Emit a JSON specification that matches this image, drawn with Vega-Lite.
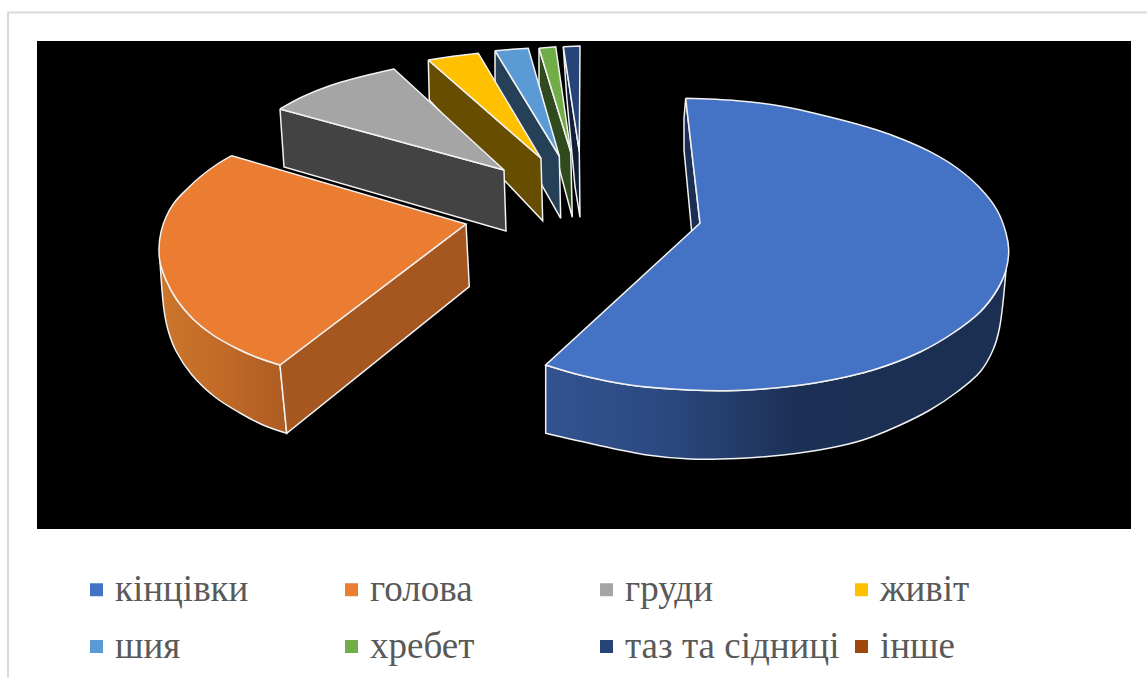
{
  "$schema": "https://vega.github.io/schema/vega-lite/v6.json",
  "width": 1094,
  "height": 488,
  "autosize": {"type": "none"},
  "padding": {"left": 37, "top": 41, "right": 16, "bottom": 149},
  "background": "white",
  "view": {"fill": "black", "stroke": null},
  "datasets": {
    "outline": [
      {"piece":"кінцівки: дуга","x":545.7,"y":365},{"piece":"кінцівки: дуга","x":545.7,"y":365},{"piece":"кінцівки: дуга","x":580,"y":375},{"piece":"кінцівки: дуга","x":630,"y":385},{"piece":"кінцівки: дуга","x":690,"y":390},{"piece":"кінцівки: дуга","x":727,"y":390.7},{"piece":"кінцівки: дуга","x":763,"y":389},{"piece":"кінцівки: дуга","x":797,"y":385.5},{"piece":"кінцівки: дуга","x":823,"y":381.5},{"piece":"кінцівки: дуга","x":873,"y":370},{"piece":"кінцівки: дуга","x":920,"y":352},{"piece":"кінцівки: дуга","x":953,"y":333},{"piece":"кінцівки: дуга","x":980,"y":312},{"piece":"кінцівки: дуга","x":997,"y":290},{"piece":"кінцівки: дуга","x":1006,"y":270},{"piece":"кінцівки: дуга","x":1006,"y":270},{"piece":"кінцівки: дуга","x":999.5,"y":328},{"piece":"кінцівки: дуга","x":993,"y":350},{"piece":"кінцівки: дуга","x":980,"y":372},{"piece":"кінцівки: дуга","x":957,"y":392},{"piece":"кінцівки: дуга","x":930,"y":410},{"piece":"кінцівки: дуга","x":897,"y":426.5},{"piece":"кінцівки: дуга","x":863,"y":440},{"piece":"кінцівки: дуга","x":830,"y":448},{"piece":"кінцівки: дуга","x":783,"y":455},{"piece":"кінцівки: дуга","x":737,"y":458.5},{"piece":"кінцівки: дуга","x":690,"y":459},{"piece":"кінцівки: дуга","x":647,"y":455},{"piece":"кінцівки: дуга","x":597,"y":445},{"piece":"кінцівки: дуга","x":545.7,"y":433.3},{"piece":"кінцівки: дуга","x":545.7,"y":433.3},{"piece":"кінцівки: дуга","x":545.7,"y":365},{"piece":"кінцівки: дуга","x":545.7,"y":365},

      {"piece":"голова: дуга","x":280,"y":365},{"piece":"голова: дуга","x":280,"y":365},{"piece":"голова: дуга","x":256.7,"y":357.3},{"piece":"голова: дуга","x":236,"y":348},{"piece":"голова: дуга","x":213,"y":335},{"piece":"голова: дуга","x":193,"y":319},{"piece":"голова: дуга","x":177,"y":300},{"piece":"голова: дуга","x":166,"y":280},{"piece":"голова: дуга","x":160,"y":262},{"piece":"голова: дуга","x":160,"y":262},{"piece":"голова: дуга","x":164,"y":310},{"piece":"голова: дуга","x":168,"y":330},{"piece":"голова: дуга","x":176,"y":351},{"piece":"голова: дуга","x":192,"y":375},{"piece":"голова: дуга","x":215,"y":397},{"piece":"голова: дуга","x":240,"y":413},{"piece":"голова: дуга","x":263,"y":425},{"piece":"голова: дуга","x":286.7,"y":433.3},{"piece":"голова: дуга","x":286.7,"y":433.3},{"piece":"голова: дуга","x":280,"y":365},{"piece":"голова: дуга","x":280,"y":365},

      {"piece":"таз та сідниці: бік","x":563.3,"y":46.7},{"piece":"таз та сідниці: бік","x":579.3,"y":151.7},{"piece":"таз та сідниці: бік","x":580,"y":217.3},{"piece":"таз та сідниці: бік","x":575,"y":186.7},{"piece":"таз та сідниці: бік","x":566.7,"y":96.7},{"piece":"таз та сідниці: бік","x":563.3,"y":46.7},
      {"piece":"таз та сідниці","x":563.3,"y":46.7},{"piece":"таз та сідниці","x":580,"y":46},{"piece":"таз та сідниці","x":579.3,"y":151.7},{"piece":"таз та сідниці","x":563.3,"y":46.7},

      {"piece":"хребет: бік","x":539,"y":48.3},{"piece":"хребет: бік","x":570.7,"y":151.7},{"piece":"хребет: бік","x":572.3,"y":217.3},{"piece":"хребет: бік","x":561,"y":175},{"piece":"хребет: бік","x":539,"y":85},{"piece":"хребет: бік","x":539,"y":48.3},
      {"piece":"хребет","x":539,"y":48.3},{"piece":"хребет","x":555.7,"y":46.7},{"piece":"хребет","x":570.7,"y":151.7},{"piece":"хребет","x":539,"y":48.3},

      {"piece":"шия: бік","x":495,"y":50.7},{"piece":"шия: бік","x":559.3,"y":156},{"piece":"шия: бік","x":560.7,"y":218.3},{"piece":"шия: бік","x":542.7,"y":186.7},{"piece":"шия: бік","x":495,"y":90},{"piece":"шия: бік","x":495,"y":50.7},
      {"piece":"шия","x":495,"y":50.7},{"piece":"шия","x":512,"y":49.3},{"piece":"шия","x":528.3,"y":48.3},{"piece":"шия","x":559.3,"y":156},{"piece":"шия","x":495,"y":50.7},

      {"piece":"живіт: бік","x":428.3,"y":60},{"piece":"живіт: бік","x":541,"y":158.3},{"piece":"живіт: бік","x":542.7,"y":220.7},{"piece":"живіт: бік","x":505,"y":181},{"piece":"живіт: бік","x":429.3,"y":100},{"piece":"живіт: бік","x":428.3,"y":60},
      {"piece":"живіт","x":428.3,"y":60},{"piece":"живіт","x":453,"y":56.3},{"piece":"живіт","x":478.3,"y":53.3},{"piece":"живіт","x":541,"y":158.3},{"piece":"живіт","x":428.3,"y":60},

      {"piece":"груди: бік","x":280,"y":109},{"piece":"груди: бік","x":504,"y":170},{"piece":"груди: бік","x":506,"y":231},{"piece":"груди: бік","x":284,"y":167},{"piece":"груди: бік","x":280,"y":109},

      {"piece":"голова: бік","x":466,"y":224},{"piece":"голова: бік","x":469.3,"y":286.7},{"piece":"голова: бік","x":286.7,"y":433.3},{"piece":"голова: бік","x":280,"y":365},{"piece":"голова: бік","x":466,"y":224},

      {"piece":"кінцівки: бік","x":685.7,"y":98.3},{"piece":"кінцівки: бік","x":700,"y":223.3},{"piece":"кінцівки: бік","x":691.7,"y":231.7},{"piece":"кінцівки: бік","x":684,"y":150},{"piece":"кінцівки: бік","x":684,"y":118.3},{"piece":"кінцівки: бік","x":685.7,"y":98.3},

      {"piece":"груди","x":280,"y":109},{"piece":"груди","x":280,"y":109},{"piece":"груди","x":302,"y":97},{"piece":"груди","x":329,"y":86},{"piece":"груди","x":364,"y":76},{"piece":"груди","x":394,"y":69},{"piece":"груди","x":394,"y":69},{"piece":"груди","x":504,"y":170},{"piece":"груди","x":504,"y":170},{"piece":"груди","x":280,"y":109},{"piece":"груди","x":280,"y":109},

      {"piece":"голова","x":231.7,"y":155.7},{"piece":"голова","x":231.7,"y":155.7},{"piece":"голова","x":466,"y":224},{"piece":"голова","x":466,"y":224},{"piece":"голова","x":280,"y":365},{"piece":"голова","x":280,"y":365},{"piece":"голова","x":256.7,"y":357.3},{"piece":"голова","x":236,"y":348},{"piece":"голова","x":213,"y":335},{"piece":"голова","x":193,"y":319},{"piece":"голова","x":177,"y":300},{"piece":"голова","x":166,"y":280},{"piece":"голова","x":160,"y":262},{"piece":"голова","x":159,"y":248},{"piece":"голова","x":161,"y":232},{"piece":"голова","x":166,"y":217},{"piece":"голова","x":174,"y":203},{"piece":"голова","x":186,"y":190},{"piece":"голова","x":200,"y":177},{"piece":"голова","x":216,"y":165},{"piece":"голова","x":231.7,"y":155.7},{"piece":"голова","x":231.7,"y":155.7},

      {"piece":"кінцівки","x":685.7,"y":98.3},{"piece":"кінцівки","x":685.7,"y":98.3},{"piece":"кінцівки","x":737,"y":100.7},{"piece":"кінцівки","x":783,"y":106.5},{"piece":"кінцівки","x":830,"y":117},{"piece":"кінцівки","x":877,"y":130},{"piece":"кінцівки","x":903,"y":139.5},{"piece":"кінцівки","x":930,"y":151.7},{"piece":"кінцівки","x":957,"y":168},{"piece":"кінцівки","x":980,"y":188},{"piece":"кінцівки","x":997,"y":210},{"piece":"кінцівки","x":1006,"y":233},{"piece":"кінцівки","x":1008.7,"y":250},{"piece":"кінцівки","x":1006,"y":270},{"piece":"кінцівки","x":997,"y":290},{"piece":"кінцівки","x":980,"y":312},{"piece":"кінцівки","x":953,"y":333},{"piece":"кінцівки","x":920,"y":352},{"piece":"кінцівки","x":873,"y":370},{"piece":"кінцівки","x":823,"y":381.5},{"piece":"кінцівки","x":797,"y":385.5},{"piece":"кінцівки","x":763,"y":389},{"piece":"кінцівки","x":727,"y":390.7},{"piece":"кінцівки","x":690,"y":390},{"piece":"кінцівки","x":630,"y":385},{"piece":"кінцівки","x":580,"y":375},{"piece":"кінцівки","x":545.7,"y":365},{"piece":"кінцівки","x":545.7,"y":365},{"piece":"кінцівки","x":700,"y":223.3},{"piece":"кінцівки","x":700,"y":223.3},{"piece":"кінцівки","x":685.7,"y":98.3},{"piece":"кінцівки","x":685.7,"y":98.3}
    ]
  },
  "layer": [
    {
      "description": "Thin grey frame around the chart area",
      "data": {"values": [{"left": 8, "right": 1200, "top": 12.5, "bottom": 800}]},
      "mark": {"type": "rect", "fill": null, "stroke": "#d9d9d9", "strokeWidth": 2, "clip": false},
      "encoding": {
        "x": {"field": "left", "type": "quantitative", "scale": {"domain": [37, 1131]}, "axis": null},
        "x2": {"field": "right"},
        "y": {"field": "top", "type": "quantitative", "scale": {"domain": [529, 41]}, "axis": null},
        "y2": {"field": "bottom"}
      }
    },
    {
      "description": "Curved wall of the largest slice, shaded left to right",
      "data": {"name": "outline"},
      "transform": [
        {"window": [{"op": "row_number", "as": "i"}]},
        {"filter": "datum.piece === 'кінцівки: дуга'"}
      ],
      "mark": {
        "type": "line",
        "interpolate": "catmull-rom",
        "stroke": "#f2f2f2",
        "strokeWidth": 1.5,
        "fill": {
          "gradient": "linear", "x1": 0, "y1": 0, "x2": 1, "y2": 0,
          "stops": [
            {"offset": 0, "color": "#335390"},
            {"offset": 0.25, "color": "#2C4980"},
            {"offset": 0.55, "color": "#1C3055"},
            {"offset": 1, "color": "#1B2F52"}
          ]
        }
      },
      "encoding": {
        "x": {"field": "x", "type": "quantitative", "scale": {"domain": [37, 1131]}, "axis": null},
        "y": {"field": "y", "type": "quantitative", "scale": {"domain": [529, 41]}, "axis": null},
        "order": {"field": "i"}
      }
    },
    {
      "description": "Curved wall of the second slice, shaded left to right",
      "data": {"name": "outline"},
      "transform": [
        {"window": [{"op": "row_number", "as": "i"}]},
        {"filter": "datum.piece === 'голова: дуга'"}
      ],
      "mark": {
        "type": "line",
        "interpolate": "catmull-rom",
        "stroke": "#f2f2f2",
        "strokeWidth": 1.5,
        "fill": {
          "gradient": "linear", "x1": 0, "y1": 0, "x2": 1, "y2": 0,
          "stops": [
            {"offset": 0, "color": "#CC752C"},
            {"offset": 0.5, "color": "#C16A28"},
            {"offset": 1, "color": "#AD5B22"}
          ]
        }
      },
      "encoding": {
        "x": {"field": "x", "type": "quantitative", "scale": {"domain": [37, 1131]}, "axis": null},
        "y": {"field": "y", "type": "quantitative", "scale": {"domain": [529, 41]}, "axis": null},
        "order": {"field": "i"}
      }
    },
    {
      "description": "Straight-edged faces, listed back to front; the legend shows the eight categories",
      "data": {"name": "outline"},
      "transform": [
        {"window": [{"op": "row_number", "as": "i"}]},
        {"filter": "!test(/дуга/, datum.piece) && datum.piece !== 'груди' && datum.piece !== 'голова' && datum.piece !== 'кінцівки'"}
      ],
      "mark": {"type": "line", "stroke": "#f2f2f2", "strokeWidth": 1.5, "strokeJoin": "miter"},
      "encoding": {
        "x": {"field": "x", "type": "quantitative", "scale": {"domain": [37, 1131]}, "axis": null},
        "y": {"field": "y", "type": "quantitative", "scale": {"domain": [529, 41]}, "axis": null},
        "order": {"field": "i"},
        "fill": {
          "field": "piece",
          "type": "nominal",
          "sort": null,
          "scale": {
            "domain": ["кінцівки","голова","груди","живіт","шия","хребет","таз та сідниці","інше","кінцівки: бік","голова: бік","груди: бік","живіт: бік","шия: бік","хребет: бік","таз та сідниці: бік"],
            "range": ["#4472C4","#EB7D32","#A5A5A5","#FFC000","#5B9BD5","#70AD47","#264478","#9E480E","#1B2F55","#A5571F","#434343","#664D00","#264058","#2F4A1C","#101F38"]
          },
          "legend": {
            "values": ["кінцівки","голова","груди","живіт","шия","хребет","таз та сідниці","інше"],
            "orient": "none",
            "legendX": 41,
            "legendY": 530,
            "direction": "horizontal",
            "columns": 4,
            "gridAlign": "all",
            "title": null,
            "symbolType": "square",
            "symbolSize": 169,
            "symbolStrokeWidth": 0,
            "labelFont": "Liberation Serif",
            "labelFontSize": 37,
            "labelColor": "#595959",
            "labelLimit": 400,
            "labelOffset": 0,
            "columnPadding": 3,
            "rowPadding": 19,
            "padding": 0
          }
        }
      }
    },
    {
      "description": "Top faces with a curved rim, drawn over the walls behind them",
      "data": {"name": "outline"},
      "transform": [
        {"window": [{"op": "row_number", "as": "i"}]},
        {"filter": "datum.piece === 'груди' || datum.piece === 'голова' || datum.piece === 'кінцівки'"}
      ],
      "mark": {"type": "line", "interpolate": "catmull-rom", "stroke": "#f2f2f2", "strokeWidth": 1.5, "strokeJoin": "miter"},
      "encoding": {
        "x": {"field": "x", "type": "quantitative", "scale": {"domain": [37, 1131]}, "axis": null},
        "y": {"field": "y", "type": "quantitative", "scale": {"domain": [529, 41]}, "axis": null},
        "order": {"field": "i"},
        "fill": {"field": "piece", "type": "nominal", "sort": null}
      }
    }
  ]
}
